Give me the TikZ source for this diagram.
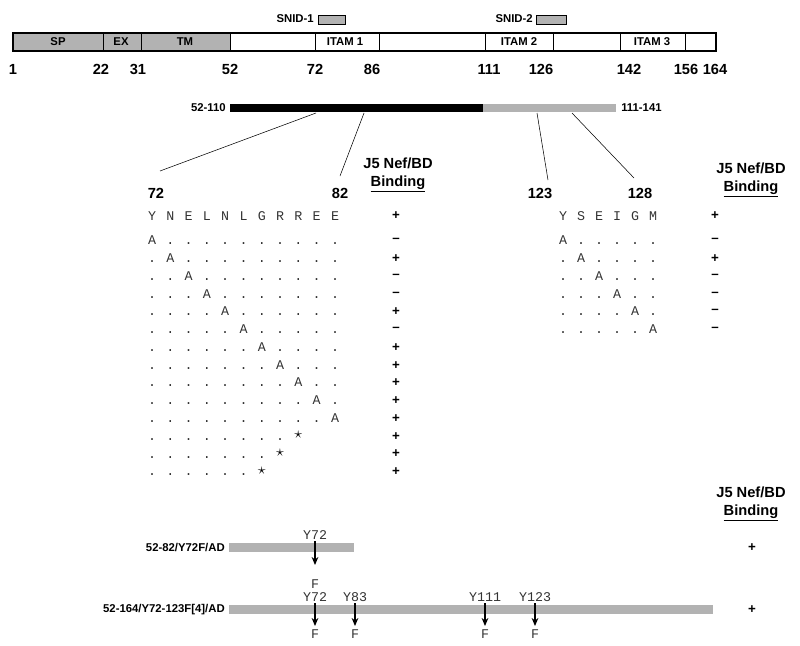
\documentclass[tikz,border=0pt]{standalone}
\usepackage{fontspec}
\setmainfont{Liberation Sans}
\newfontfamily\mono{Liberation Mono}
\usetikzlibrary{arrows.meta}
\begin{document}
\begin{tikzpicture}[x=0.75pt,y=-0.75pt,
  lab/.style={font=\bfseries\fontsize{8.5}{9}\selectfont,inner sep=0pt},
  num/.style={font=\bfseries\fontsize{11}{13}\selectfont,inner sep=0pt},
  sq/.style={font=\mono\fontsize{10}{10}\selectfont,inner sep=0pt,text=black!80},
  sb/.style={font=\mono\fontsize{10}{10}\selectfont,inner sep=0pt,text=black!80,anchor=base},
  sg/.style={font=\bfseries\fontsize{10}{10}\selectfont,inner sep=0pt},
  gfill/.style={fill=black!30},
  arr/.style={-{Stealth[length=6pt,width=5pt]},thick}]
\useasboundingbox (0,0) rectangle (800,646);
% top bar
\draw[gfill] (13,33) rectangle (103,51);
\draw[gfill] (103,33) rectangle (141,51);
\draw[gfill] (141,33) rectangle (230,51);
\foreach \a/\b in {230/315,315/379,379/485,485/553,553/620,620/685,685/716}
  \draw[fill=white] (\a,33) rectangle (\b,51);
\draw[line width=1pt] (13,33) rectangle (716,51);
\node[lab] at (58,42) {SP};
\node[lab] at (121,42) {EX};
\node[lab] at (185,42) {TM};
\node[lab] at (345,42) {ITAM 1};
\node[lab] at (519,42) {ITAM 2};
\node[lab] at (652,42) {ITAM 3};
\node[lab,anchor=east] (s1) at (314,19) {SNID-1};
\draw[gfill] (318,15) rectangle (345,24);
\node[lab,anchor=east] (s2) at (533,19) {SNID-2};
\draw[gfill] (536,15) rectangle (566,24);
\foreach \x/\t in {13/1,101/22,138/31,230/52,315/72,372/86,489/111,541/126,629/142,686/156,715/164}
  \node[num] at (\x,69) {\t};
% fragment bar
\fill (230,104) rectangle (483,112);
\fill[black!30] (483,104) rectangle (616,112);
\node[lab,anchor=east] at (226,108) {52-110};
\node[lab,anchor=west] at (621,108) {111-141};
\coordinate (a1) at (316,113); \coordinate (a2) at (364,113);
\coordinate (a3) at (537,113); \coordinate (a4) at (572,113);
\node[num] (n72) at (156,193) {72};
\node[num] (n82) at (340,193) {82};
\node[num] (n123) at (540,193) {123};
\node[num] (n128) at (640,193) {128};
\draw (a1) -- (160,171);
\draw (a2) -- (340,176);
\draw (a3) -- (548,180);
\draw (a4) -- (634,178);
\node[num,align=center] at (398,175) {J5 Nef/BD\\\underline{Binding}};
\node[num,align=center] at (751,180) {J5 Nef/BD\\\underline{Binding}};
\node[num,align=center] at (751,504) {J5 Nef/BD\\\underline{Binding}};
% left sequence
\foreach \c [count=\i from 0] in {Y,N,E,L,N,L,G,R,R,E,E}
  \node[sb] at (152+18.3*\i,220) {\c};
\node[sg] at (396,216) {+};
\foreach \r/\s in {1/–,2/+,3/–,4/–,5/+,6/–,7/+,8/+,9/+,10/+,11/+}{
  \foreach \i in {0,...,10}{
    \pgfmathtruncatemacro{\k}{\i+1}
    \ifnum\k=\r \node[sb] at (152+18.3*\i,227+17.77*\r) {A};
    \else \node[sb] at (152+18.3*\i,227+17.77*\r) {.};\fi}
  \node[sg] at (396,223+17.77*\r) {\s};}
\foreach \r/\n in {12/8,13/7,14/6}{
  \pgfmathtruncatemacro{\m}{\n-1}
  \foreach \i in {0,...,\m} \node[sb] at (152+18.3*\i,227+17.77*\r) {.};
  \node[sg] at (152+18.3*\n,222+17.77*\r) {\large$\star$};
  \node[sg] at (396,223+17.77*\r) {+};}
% right sequence
\foreach \c [count=\i from 0] in {Y,S,E,I,G,M}
  \node[sb] at (563+18*\i,220) {\c};
\node[sg] at (715,216) {+};
\foreach \r/\s in {1/–,2/+,3/–,4/–,5/–,6/–}{
  \foreach \i in {0,...,5}{
    \pgfmathtruncatemacro{\k}{\i+1}
    \ifnum\k=\r \node[sb] at (563+18*\i,227+17.77*\r) {A};
    \else \node[sb] at (563+18*\i,227+17.77*\r) {.};\fi}
  \node[sg] at (715,223+17.77*\r) {\s};}
% bottom constructs
\fill[black!30] (229,543) rectangle (354,552);
\node[lab,anchor=east] at (225,548) {52-82/Y72F/AD};
\node[sq] (y72a) at (315,535) {Y72};
\node[sq] (fa) at (315,584) {F};
\draw[arr] (315,541) -- (315,565);
\node[sg] at (752,548) {+};
\fill[black!30] (229,605) rectangle (713,614);
\node[lab,anchor=east] at (225,610) {52-164/Y72-123F[4]/AD};
\foreach \x/\t in {315/Y72,355/Y83,485/Y111,535/Y123}{
  \node[sq] at (\x,597) {\t};
  \draw[arr] (\x,603) -- (\x,626);
  \node[sq] at (\x,634) {F};}
\node[sg] at (752,610) {+};
\end{tikzpicture}
\end{document}
